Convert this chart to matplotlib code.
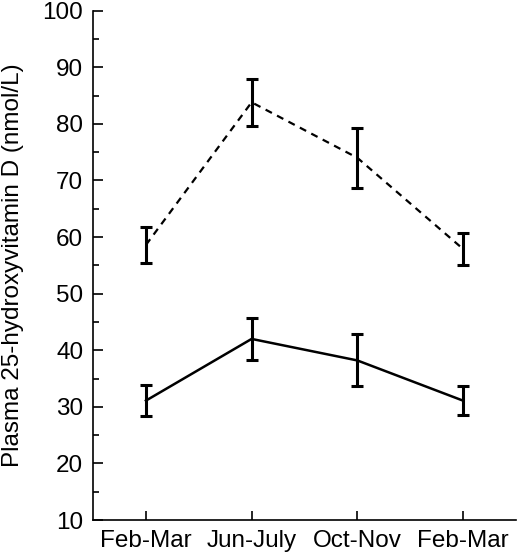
import matplotlib
matplotlib.use("Agg")
import matplotlib.pyplot as plt
from matplotlib.ticker import MultipleLocator

plt.rcParams['font.family'] = ['Liberation Sans', 'DejaVu Sans']

categories = ["Feb-Mar", "Jun-July", "Oct-Nov", "Feb-Mar"]
dashed_mean = [58.6, 83.8, 74.0, 57.9]
dashed_err = [3.2, 4.1, 5.3, 2.8]
solid_mean = [31.1, 42.0, 38.2, 31.1]
solid_err = [2.8, 3.7, 4.6, 2.5]
yticks = [10, 20, 30, 40, 50, 60, 70, 80, 90, 100]
ylabel = "Plasma 25-hydroxyvitamin D (nmol/L)"

fig = plt.figure(figsize=(5.2, 5.58), dpi=100)
ax = fig.add_axes([0.179, 0.068, 0.813, 0.913])

x = list(range(len(categories)))

ax.errorbar(x, dashed_mean, yerr=dashed_err, color='black', linestyle=(0, (3.2, 2.6)),
            linewidth=1.6, elinewidth=2.2, capsize=4, capthick=2.2)
ax.errorbar(x, solid_mean, yerr=solid_err, color='black', linestyle='-',
            linewidth=1.8, elinewidth=2.2, capsize=4, capthick=2.2)

ax.set_xlim(-0.5, 3.5)
ax.set_ylim(10, 100)
ax.set_xticks(x)
ax.set_xticklabels(categories, fontsize=17.5)
ax.set_yticks(yticks)
ax.set_yticklabels([str(v) for v in yticks], fontsize=17.5)
ax.yaxis.set_minor_locator(MultipleLocator(5))
ax.tick_params(axis='y', which='major', direction='in', length=7.2, width=1.2, pad=7)
ax.tick_params(axis='y', which='minor', direction='in', length=4.5, width=1.2)
ax.tick_params(axis='x', which='major', direction='in', length=6.5, width=1.2, pad=7)
ax.spines['top'].set_visible(False)
ax.spines['right'].set_visible(False)
ax.spines['left'].set_linewidth(1.2)
ax.spines['bottom'].set_linewidth(1.2)
ax.set_ylabel(ylabel, fontsize=17.5)
ax.yaxis.set_label_coords(-0.163, 0.5)

fig.savefig("out.png", dpi=100)
